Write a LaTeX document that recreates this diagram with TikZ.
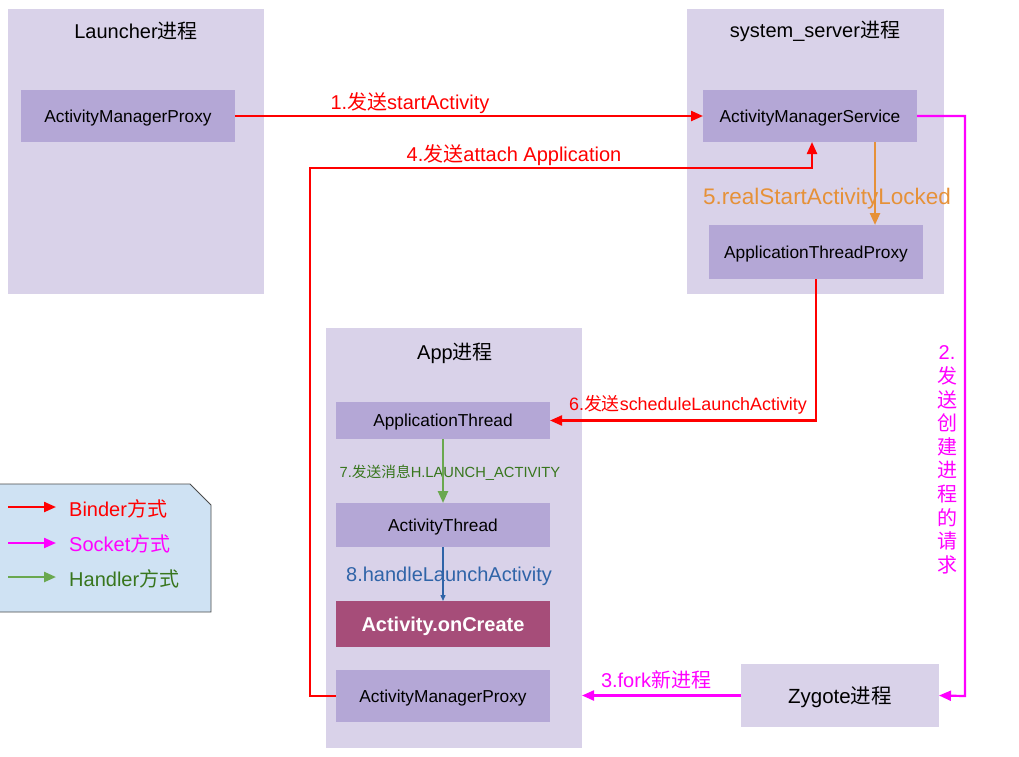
\documentclass[tikz,border=0pt]{standalone}
\usepackage{fontspec}
\setmainfont{Liberation Sans}
\newfontfamily\cjk{Noto Sans CJK SC}
\newcommand\myzh[1]{{\cjk #1}}
\usetikzlibrary{arrows.meta,calc}
\definecolor{procfill}{HTML}{D9D2E9}
\definecolor{boxfill}{HTML}{B4A7D6}
\definecolor{createfill}{HTML}{A64D79}
\definecolor{legfill}{HTML}{CFE2F3}
\definecolor{binder}{HTML}{FF0000}
\definecolor{socket}{HTML}{FF00FF}
\definecolor{handlerline}{HTML}{6AA84F}
\definecolor{handlertext}{HTML}{38761D}
\definecolor{orangec}{HTML}{E69138}
\definecolor{bluec}{HTML}{2F64A8}
\tikzset{
  proc/.style={fill=procfill, draw=none, inner sep=0pt, outer sep=0pt},
  ibox/.style={fill=boxfill, draw=none, inner sep=0pt, outer sep=0pt, minimum width=214pt, text depth=0pt, font=\fontsize{17.3}{20}\selectfont},
  title/.style={font=\fontsize{20}{23}\selectfont, inner sep=0pt},
  lbl/.style={font=\fontsize{20}{23}\selectfont, inner sep=0pt, text depth=0pt},
  tip/.style={-{Triangle[length=12pt,width=10pt]}},
  binderarrow/.style={tip, draw=binder, line width=2.2pt},
  socketarrow/.style={tip, draw=socket, line width=2.2pt},
  handlerarrow/.style={tip, draw=handlerline, line width=2.4pt},
  orangearrow/.style={tip, draw=orangec, line width=2.4pt},
  bluearrow/.style={-{Triangle[length=6pt,width=5pt]}, draw=bluec, line width=1.3pt},
}
\begin{document}
\begin{tikzpicture}[x=1pt,y=-1pt]
\useasboundingbox (0,0) rectangle (1019,756);
\fill[white] (0,0) rectangle (1019,756);
% containers
\node[proc, minimum width=256pt, minimum height=285pt] (launcher) at (136,151.5) {};
\node[proc, minimum width=257pt, minimum height=285pt] (sysserver) at (815.5,151.5) {};
\node[proc, minimum width=256pt, minimum height=420pt] (app) at (454,538) {};
\node[title] (tl) at (136,31) {Launcher\myzh{进程}};
\node[title] (ts) at (815,31) {system\_server\myzh{进程}};
\node[title] (ta) at (455,353) {App\myzh{进程}};
% inner boxes
\node[ibox, minimum height=52pt] (lamp) at (128,116) {ActivityManagerProxy};
\node[ibox, minimum height=52pt] (ams) at (810,116) {ActivityManagerService};
\node[ibox, minimum height=54pt] (atp) at (816,252) {ApplicationThreadProxy};
\node[ibox, minimum height=37pt] (at) at (443,420.5) {ApplicationThread};
\node[ibox, minimum height=44pt] (athr) at (443,525) {ActivityThread};
\node[ibox, minimum height=46pt, fill=createfill, text=white, font=\fontsize{20}{23}\selectfont\bfseries] (oncreate) at (443,624) {Activity.onCreate};
\node[ibox, minimum height=52pt] (aamp) at (443,696) {ActivityManagerProxy};
\node[proc, minimum width=198pt, minimum height=63pt, text depth=0pt, font=\fontsize{20.5}{23}\selectfont] (zyg) at (840,695.5) {Zygote\myzh{进程}};
% legend
\draw[fill=legfill, draw=black!70, line width=0.8pt] (-2,484) -- (190,484) -- (211,505) -- (211,612) -- (-2,612) -- cycle;
\coordinate (lb1s) at (8,507); \coordinate (lb1e) at (56,507);
\coordinate (lb2s) at (8,543); \coordinate (lb2e) at (56,543);
\coordinate (lb3s) at (8,577); \coordinate (lb3e) at (56,577);
\draw[binderarrow] (lb1s) -- (lb1e);
\draw[socketarrow] (lb2s) -- (lb2e);
\draw[handlerarrow] (lb3s) -- (lb3e);
\node[lbl, anchor=west, text=binder] (lgb) at (69,508) {Binder\myzh{方式}};
\node[lbl, anchor=west, text=socket] (lgs) at (69,543) {Socket\myzh{方式}};
\node[lbl, anchor=west, text=handlertext] (lgh) at (69,578) {Handler\myzh{方式}};
% coordinates for routes
\coordinate (c4) at (310,168);
\coordinate (c2) at (965,696);
\coordinate (o5) at (875,0);
% arrows
\draw[binderarrow] (lamp.east) -- (ams.west);
\node[lbl, text=binder] (l1) at (410,101) {1.\myzh{发送}startActivity};
\draw[binderarrow] (aamp.west) -| (c4) -| ($(ams.south)+(2,0)$);
\node[lbl, text=binder] (l4) at (514,153) {4.\myzh{发送}attach Application};
\node[lbl, text=orangec, font=\fontsize{22.5}{25}\selectfont] (l5) at (827,196) {5.realStartActivityLocked};
\draw[orangearrow] (ams.south -| o5) -- (atp.north -| o5);
\draw[binderarrow] (atp.south) |- (at.east);
\node[lbl, text=binder, font=\fontsize{17.9}{21}\selectfont] (l6) at (688,403) {6.\myzh{发送}scheduleLaunchActivity};
\draw[socketarrow] (ams.east) -| (c2) -- (zyg.east);
\node[text=socket, inner sep=0pt, align=center, font=\fontsize{20}{23.6}\selectfont] (l2) at (947,460) {2.\\\myzh{发}\\\myzh{送}\\\myzh{创}\\\myzh{建}\\\myzh{进}\\\myzh{程}\\\myzh{的}\\\myzh{请}\\\myzh{求}};
\draw[socketarrow] (zyg.west) -- (app.east |- zyg.west);
\node[lbl, text=socket] (l3) at (656,679) {3.fork\myzh{新进程}};
\node[text=handlertext, inner sep=0pt, text depth=0pt, font=\fontsize{14.7}{17}\selectfont] (l7) at (450,471) {7.\myzh{发送消息}H.LAUNCH\_ACTIVITY};
\draw[handlerarrow] (at.south) -- (athr.north);
\node[lbl, text=bluec] (l8) at (449,574) {8.handleLaunchActivity};
\draw[bluearrow] (athr.south) -- (oncreate.north);
\end{tikzpicture}
\end{document}
